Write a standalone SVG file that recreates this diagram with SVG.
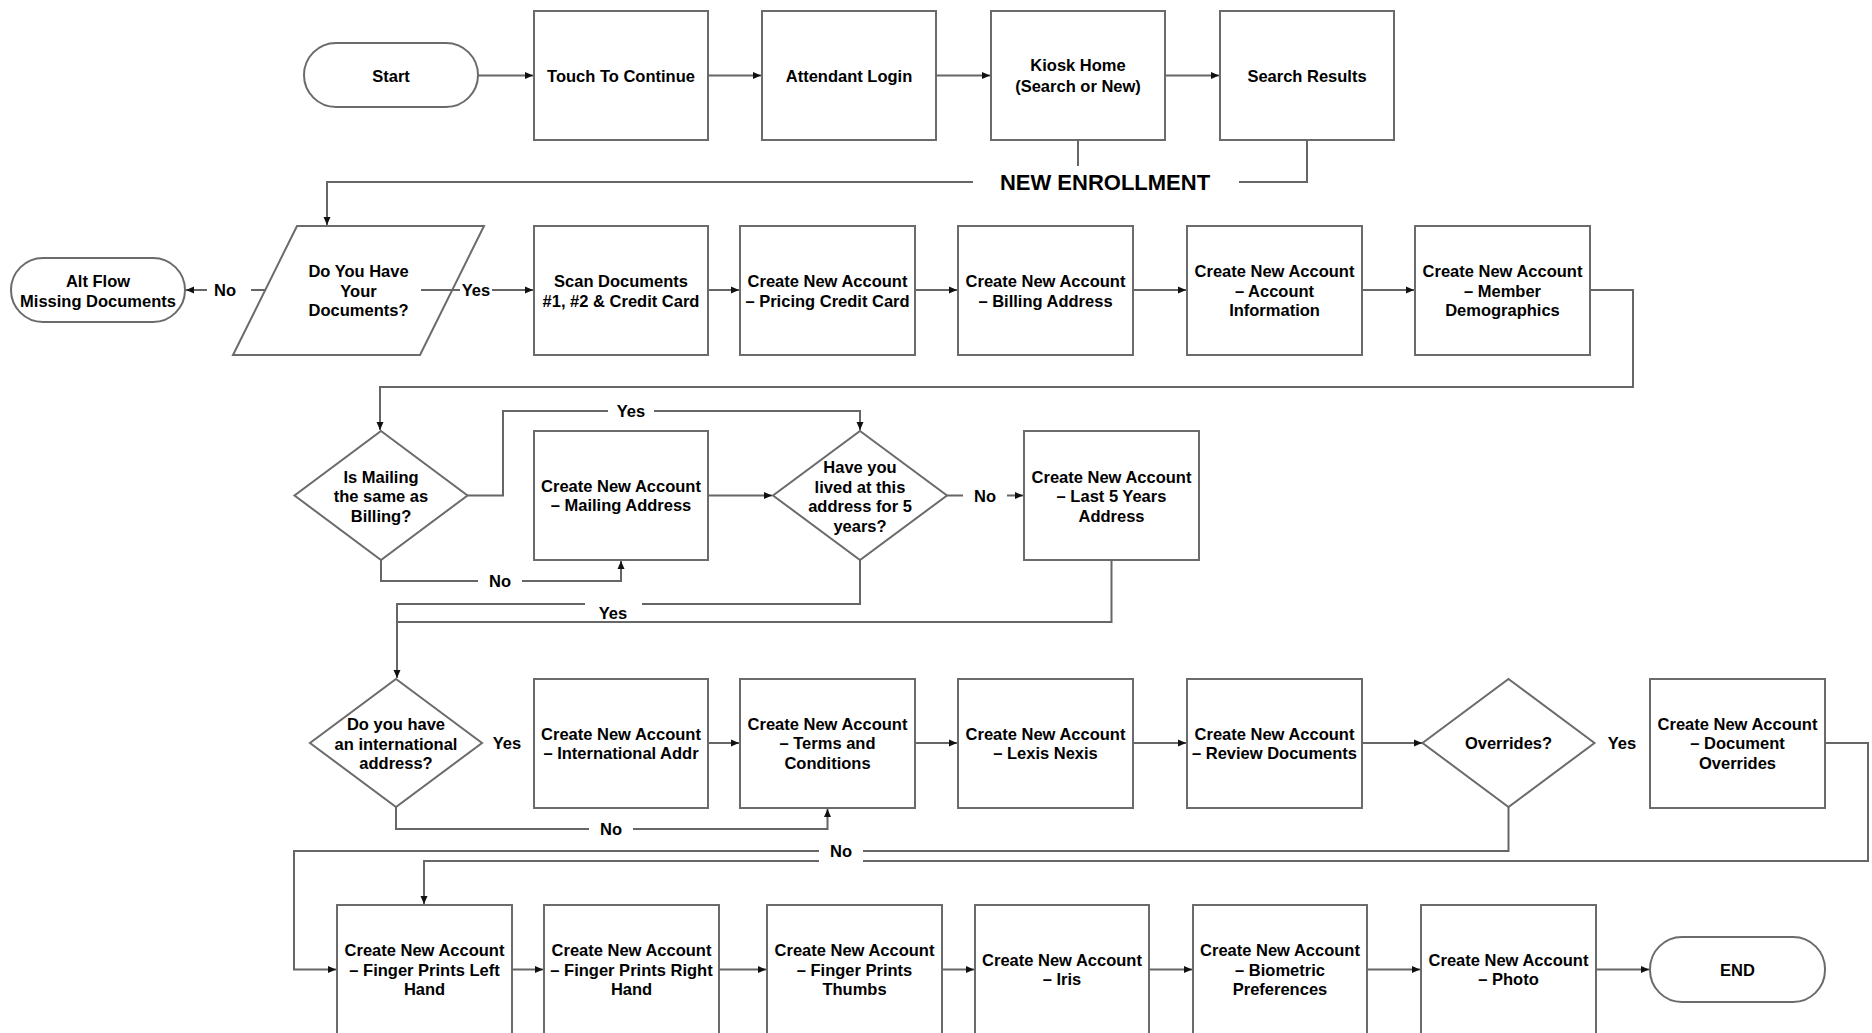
<svg xmlns="http://www.w3.org/2000/svg" width="1872" height="1033" viewBox="0 0 1872 1033">
<style>
.n{fill:#fff;stroke:#6b6b6b;stroke-width:2}
.c{fill:none;stroke:#666;stroke-width:2}
.a{marker-end:url(#ah)}
text{font-family:"Liberation Sans",Arial,Helvetica,sans-serif;font-weight:bold;font-size:16.5px;fill:#000;text-anchor:middle}
.big{font-size:22px}
.lb{fill:#fff;stroke:none}
</style>
<defs>
<marker id="ah" markerUnits="userSpaceOnUse" markerWidth="9" markerHeight="8" refX="8" refY="4" orient="auto">
<path d="M0,0.5 L8,4 L0,7.5 z" fill="#111"/>
</marker>
</defs>
<rect width="1872" height="1033" fill="#fff"/>

<g id="start"><rect class="n" x="304" y="43" width="174" height="64" rx="32"/><text x="391" y="81.5">Start</text></g>
<g id="touch"><rect class="n" x="534" y="11" width="174" height="129"/><text x="621" y="81.5">Touch To Continue</text></g>
<g id="login"><rect class="n" x="762" y="11" width="174" height="129"/><text x="849" y="81.5">Attendant Login</text></g>
<g id="kiosk"><rect class="n" x="991" y="11" width="174" height="129"/><text x="1078" y="71">Kiosk Home</text><text x="1078" y="92">(Search or New)</text></g>
<g id="search"><rect class="n" x="1220" y="11" width="174" height="129"/><text x="1307" y="81.5">Search Results</text></g>

<g id="altflow"><rect class="n" x="11" y="258" width="174" height="64" rx="32"/><text x="98" y="287">Alt Flow</text><text x="98" y="307">Missing Documents</text></g>
<g id="docs"><polygon class="n" points="297,226 484,226 420,355 233,355"/><text x="358.5" y="277">Do You Have</text><text x="358.5" y="296.5">Your</text><text x="358.5" y="316">Documents?</text></g>
<g id="scan"><rect class="n" x="534" y="226" width="174" height="129"/><text x="621" y="287">Scan Documents</text><text x="621" y="307">#1, #2 &amp; Credit Card</text></g>
<g id="pricing"><rect class="n" x="740" y="226" width="175" height="129"/><text x="827.5" y="287">Create New Account</text><text x="827.5" y="307">– Pricing Credit Card</text></g>
<g id="billing"><rect class="n" x="958" y="226" width="175" height="129"/><text x="1045.5" y="287">Create New Account</text><text x="1045.5" y="307">– Billing Address</text></g>
<g id="account"><rect class="n" x="1187" y="226" width="175" height="129"/><text x="1274.5" y="277">Create New Account</text><text x="1274.5" y="296.5">– Account</text><text x="1274.5" y="316">Information</text></g>
<g id="member"><rect class="n" x="1415" y="226" width="175" height="129"/><text x="1502.5" y="277">Create New Account</text><text x="1502.5" y="296.5">– Member</text><text x="1502.5" y="316">Demographics</text></g>

<g id="mailsame"><polygon class="n" points="381,431 467.5,495.5 381,560 294.5,495.5"/><text x="381" y="482.5">Is Mailing</text><text x="381" y="502">the same as</text><text x="381" y="521.5">Billing?</text></g>
<g id="mailing"><rect class="n" x="534" y="431" width="174" height="129"/><text x="621" y="492">Create New Account</text><text x="621" y="511">– Mailing Address</text></g>
<g id="fiveyears"><polygon class="n" points="860,431 947,495.5 860,560 773,495.5"/><text x="860" y="473">Have you</text><text x="860" y="492.5">lived at this</text><text x="860" y="512">address for 5</text><text x="860" y="531.5">years?</text></g>
<g id="last5"><rect class="n" x="1024" y="431" width="175" height="129"/><text x="1111.5" y="482.5">Create New Account</text><text x="1111.5" y="502">– Last 5 Years</text><text x="1111.5" y="521.5">Address</text></g>

<g id="intl"><polygon class="n" points="396,679 482,743 396,807 310,743"/><text x="396" y="730">Do you have</text><text x="396" y="749.5">an international</text><text x="396" y="769">address?</text></g>
<g id="intladdr"><rect class="n" x="534" y="679" width="174" height="129"/><text x="621" y="740">Create New Account</text><text x="621" y="759">– International Addr</text></g>
<g id="terms"><rect class="n" x="740" y="679" width="175" height="129"/><text x="827.5" y="729.5">Create New Account</text><text x="827.5" y="749">– Terms and</text><text x="827.5" y="768.5">Conditions</text></g>
<g id="lexis"><rect class="n" x="958" y="679" width="175" height="129"/><text x="1045.5" y="740">Create New Account</text><text x="1045.5" y="759">– Lexis Nexis</text></g>
<g id="review"><rect class="n" x="1187" y="679" width="175" height="129"/><text x="1274.5" y="740">Create New Account</text><text x="1274.5" y="759">– Review Documents</text></g>
<g id="overrides"><polygon class="n" points="1508.5,679 1594.5,743 1508.5,807 1422.5,743"/><text x="1508.5" y="749">Overrides?</text></g>
<g id="docoverrides"><rect class="n" x="1650" y="679" width="175" height="129"/><text x="1737.5" y="729.5">Create New Account</text><text x="1737.5" y="749">– Document</text><text x="1737.5" y="768.5">Overrides</text></g>

<g id="fpleft"><rect class="n" x="337" y="905" width="175" height="132"/><text x="424.5" y="956">Create New Account</text><text x="424.5" y="975.5">– Finger Prints Left</text><text x="424.5" y="995">Hand</text></g>
<g id="fpright"><rect class="n" x="544" y="905" width="175" height="132"/><text x="631.5" y="956">Create New Account</text><text x="631.5" y="975.5">– Finger Prints Right</text><text x="631.5" y="995">Hand</text></g>
<g id="thumbs"><rect class="n" x="767" y="905" width="175" height="132"/><text x="854.5" y="956">Create New Account</text><text x="854.5" y="975.5">– Finger Prints</text><text x="854.5" y="995">Thumbs</text></g>
<g id="iris"><rect class="n" x="975" y="905" width="174" height="132"/><text x="1062" y="966">Create New Account</text><text x="1062" y="985">– Iris</text></g>
<g id="biometric"><rect class="n" x="1193" y="905" width="174" height="132"/><text x="1280" y="956">Create New Account</text><text x="1280" y="975.5">– Biometric</text><text x="1280" y="995">Preferences</text></g>
<g id="photo"><rect class="n" x="1421" y="905" width="175" height="132"/><text x="1508.5" y="966">Create New Account</text><text x="1508.5" y="985">– Photo</text></g>
<g id="end"><rect class="n" x="1650" y="937" width="175" height="65" rx="32"/><text x="1737.5" y="975.5">END</text></g>

<g id="connectors">
<path class="c a" d="M478,75.5 H533"/>
<path class="c a" d="M708,75.5 H761"/>
<path class="c a" d="M936,75.5 H990"/>
<path class="c a" d="M1165,75.5 H1219"/>
<path class="c" d="M1078,140 V168"/>
<path class="c" d="M1307,140 V182 H1238"/>
<path class="c a" d="M973,182 H327 V225"/>
<path class="c a" d="M265,290 H186"/>
<path class="c a" d="M421,290 H533"/>
<path class="c a" d="M708,290 H739"/>
<path class="c a" d="M915,290 H957"/>
<path class="c a" d="M1133,290 H1186"/>
<path class="c a" d="M1362,290 H1414"/>
<path class="c a" d="M1590,290 H1633 V387 H380 V430"/>
<path class="c a" d="M467.5,495.5 H503 V411 H860 V430"/>
<path class="c a" d="M381,560 V581 H621 V561"/>
<path class="c a" d="M708,495.5 H772"/>
<path class="c a" d="M947,495.5 H1023"/>
<path class="c a" d="M860,560 V604 H397 V678"/>
<path class="c" d="M1111.5,560 V622 H397"/>
<path class="c a" d="M708,743 H739"/>
<path class="c a" d="M915,743 H957"/>
<path class="c a" d="M1133,743 H1186"/>
<path class="c a" d="M1362,743 H1422"/>
<path class="c a" d="M396,807 V829 H827.5 V809"/>
<path class="c a" d="M1508.5,807 V851 H294 V969.5 H336"/>
<path class="c a" d="M1825,743 H1868 V861 H424 V904"/>
<path class="c a" d="M512,969.5 H543"/>
<path class="c a" d="M719,969.5 H766"/>
<path class="c a" d="M942,969.5 H974"/>
<path class="c a" d="M1149,969.5 H1192"/>
<path class="c a" d="M1367,969.5 H1420"/>
<path class="c a" d="M1596,969.5 H1649"/>
<rect class="lb" x="973" y="166" width="266" height="32"/>
<text class="big" x="1105" y="190">NEW ENROLLMENT</text>
<rect class="lb" x="207" y="278" width="44" height="24"/>
<text x="225" y="296">No</text>
<rect class="lb" x="460" y="278" width="32" height="24"/>
<text x="476" y="296">Yes</text>
<rect class="lb" x="608" y="399" width="46" height="24"/>
<text x="631" y="417">Yes</text>
<rect class="lb" x="478" y="569" width="44" height="24"/>
<text x="500" y="587">No</text>
<rect class="lb" x="963" y="484" width="44" height="24"/>
<text x="985" y="502">No</text>
<rect class="lb" x="585" y="601" width="57" height="19"/>
<text x="613" y="619">Yes</text>
<text x="507" y="749">Yes</text>
<text x="1622" y="749">Yes</text>
<rect class="lb" x="589" y="817" width="44" height="24"/>
<text x="611" y="835">No</text>
<rect class="lb" x="819" y="839" width="44" height="24"/>
<text x="841" y="857">No</text>
</g>
</svg>
